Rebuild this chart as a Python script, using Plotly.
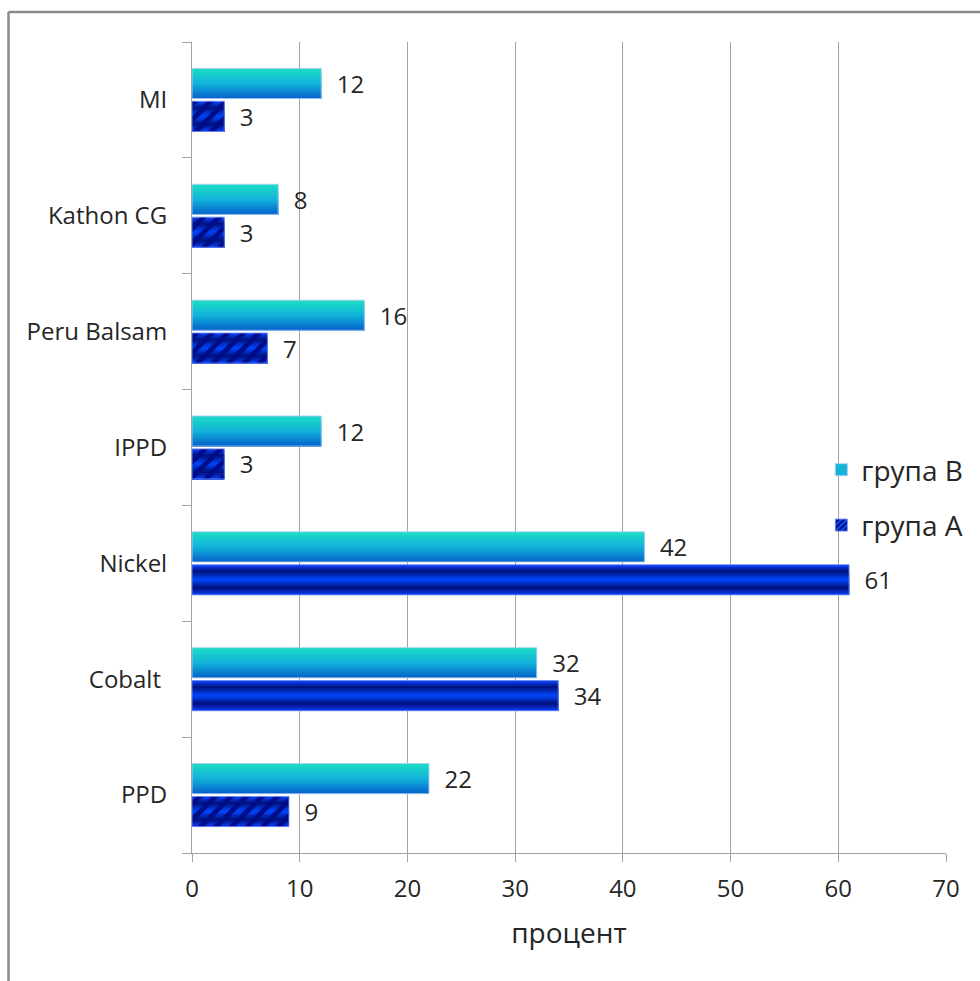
import plotly.graph_objects as go

# Allergen categories, bottom to top
categories = ["PPD", "Cobalt ", "Nickel", "IPPD", "Peru Balsam", "Kathon CG", "MI"]
group_b = [22, 32, 42, 12, 16, 8, 12]
group_a = [9, 34, 61, 3, 7, 3, 3]
x_ticks = [0, 10, 20, 30, 40, 50, 60, 70]

FONT = "Open Sans"
TEXT = "#262626"
AXIS = "#a3a3a3"


def hex_rgb(h):
    h = h.lstrip("#")
    return tuple(int(h[i:i + 2], 16) for i in (0, 2, 4))


def color_at(stops, t):
    for (t0, c0), (t1, c1) in zip(stops, stops[1:]):
        if t0 <= t <= t1:
            f = 0 if t1 == t0 else (t - t0) / (t1 - t0)
            a, b = hex_rgb(c0), hex_rgb(c1)
            r = [round(a[k] + (b[k] - a[k]) * f) for k in range(3)]
            return "rgb(%d,%d,%d)" % tuple(r)
    return stops[-1][1]


# vertical shading of each bar, top -> bottom
stops_b = [(0.0, "#1bdac6"), (0.5, "#12b3da"), (1.0, "#0566cc")]
stops_a = [(0.0, "#0a3cf0"), (0.2, "#00127e"), (0.5, "#0048ff"),
           (0.78, "#000e78"), (1.0, "#0a38e8")]

BAR_W = 0.26
GAP = 0.012
N = 16
step = BAR_W / N

fig = go.Figure()

# група B bars: above the category centre, built from overlapping strips
for i in range(N):
    fig.add_trace(go.Bar(
        y=categories, x=group_b, orientation="h",
        offset=GAP, width=BAR_W - i * step,
        marker=dict(color=color_at(stops_b, i / (N - 1)), line=dict(width=0)),
        showlegend=False, hoverinfo="skip"))

# група A bars: below the category centre
for i in range(N):
    fig.add_trace(go.Bar(
        y=categories, x=group_a, orientation="h",
        offset=-(GAP + BAR_W), width=BAR_W - i * step,
        marker=dict(color=color_at(stops_a, i / (N - 1)), line=dict(width=0)),
        showlegend=False, hoverinfo="skip"))

# short група A bars carry a diagonal stripe texture
short = [v < 20 for v in group_a]
fig.add_trace(go.Bar(
    y=categories, x=group_a, orientation="h",
    offset=-(GAP + BAR_W), width=BAR_W,
    marker=dict(
        color=["#000c88" if s else "rgba(0,0,0,0)" for s in short],
        line=dict(width=0),
        pattern=dict(shape=["/" if s else "" for s in short],
                     fillmode="replace",
                     bgcolor=["#000c88" if s else "rgba(0,0,0,0)" for s in short],
                     fgcolor="#1454ff", fgopacity=1, size=11, solidity=0.45)),
    showlegend=False, hoverinfo="skip"))

# outlines and value labels
for vals, off, edge in ((group_b, GAP, "rgba(170,205,240,0.9)"),
                        (group_a, -(GAP + BAR_W), "rgba(110,140,240,0.9)")):
    fig.add_trace(go.Bar(
        y=categories, x=vals, orientation="h",
        offset=off, width=BAR_W,
        marker=dict(color="rgba(0,0,0,0)", line=dict(color=edge, width=1)),
        texttemplate="\u00a0\u00a0%{x}", textposition="outside",
        textfont=dict(family=FONT, size=24, color=TEXT),
        constraintext="none", cliponaxis=False,
        showlegend=False, hoverinfo="skip"))

# legend entries
fig.add_trace(go.Bar(
    y=[categories[0]], x=[None], orientation="h", name="група B",
    legendgroup="b",
    marker=dict(color="#14b4da", line=dict(color="rgba(170,205,240,0.9)", width=1))))
fig.add_trace(go.Bar(
    y=[categories[0]], x=[None], orientation="h", name="група A",
    legendgroup="a",
    marker=dict(color="#000c88", line=dict(color="rgba(110,140,240,0.9)", width=1),
                pattern=dict(shape="/", fillmode="replace", bgcolor="#000c88",
                             fgcolor="#1454ff", fgopacity=1, size=5, solidity=0.45))))

# plot area in pixels: left 192, right 948, top 42, bottom 853
PL, PR, PT, PB = 192, 948, 42, 853


def px_x(p):
    return (p - PL) / (PR - PL)


def px_y(p):
    return (PB - p) / (PB - PT)


frame = dict(color="#8a8a8a", width=2.5)
fig.add_shape(type="line", xref="paper", yref="paper",
              x0=px_x(8), y0=px_y(12), x1=px_x(984), y1=px_y(12), line=frame)
fig.add_shape(type="line", xref="paper", yref="paper",
              x0=px_x(8), y0=px_y(12), x1=px_x(8), y1=px_y(990), line=frame)

fig.update_layout(
    width=980, height=981, autosize=False,
    margin=dict(l=PL, r=980 - PR, t=PT, b=981 - PB),
    paper_bgcolor="white", plot_bgcolor="white",
    barmode="overlay",
    font=dict(family=FONT, size=24, color=TEXT),
    legend=dict(x=px_x(823), y=px_y(445), xanchor="left", yanchor="top",
                bgcolor="rgba(0,0,0,0)", traceorder="grouped",
                tracegroupgap=16, font=dict(family=FONT, size=28, color=TEXT)),
    xaxis=dict(range=[0, 70], tickvals=x_ticks, showgrid=True,
               gridcolor=AXIS, gridwidth=1, zeroline=False,
               showline=True, linecolor=AXIS, linewidth=1,
               ticks="outside", ticklen=8, tickcolor=AXIS,
               ticklabelstandoff=6,
               tickfont=dict(family=FONT, size=24, color=TEXT)),
    yaxis=dict(categoryorder="array", categoryarray=categories,
               tickson="boundaries", ticks="outside", ticklen=9,
               tickcolor=AXIS, showline=True, linecolor=AXIS, linewidth=1,
               showgrid=False, ticklabelstandoff=19,
               tickfont=dict(family=FONT, size=24, color=TEXT)),
)
fig.update_xaxes(title=dict(text="процент", standoff=20,
                            font=dict(family=FONT, size=28, color=TEXT)))

fig.write_html("out.html")
